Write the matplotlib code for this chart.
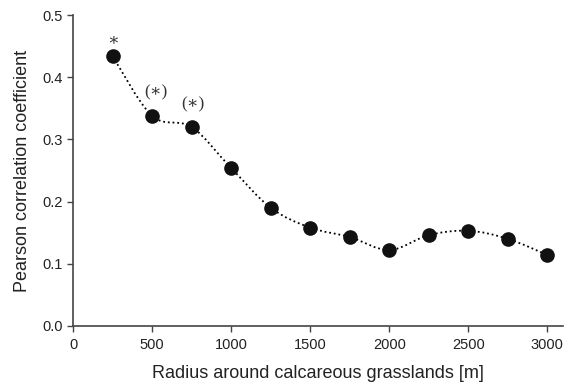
import numpy as np
import matplotlib
matplotlib.use("Agg")
import matplotlib.pyplot as plt
from matplotlib.path import Path
from matplotlib.patches import PathPatch

radius = [250, 500, 750, 1000, 1250, 1500, 1750, 2000, 2250, 2500, 2750, 3000]
pearson = [0.434, 0.338, 0.320, 0.254, 0.190, 0.158, 0.143, 0.122, 0.146, 0.153, 0.140, 0.114]
labels = {250: "\u2217", 500: "(\u2217)", 750: "(\u2217)"}

plt.rcParams['font.family'] = ['Liberation Sans', 'DejaVu Sans']
fig = plt.figure(figsize=(5.66, 3.87), dpi=100)
ax = fig.add_axes([0.129, 0.158, 0.866, 0.803])

# smooth curve through points (Catmull-Rom as cubic Bezier segments)
x = np.array(radius, float); y = np.array(pearson, float)
verts = [(x[0], y[0])]; codes = [Path.MOVETO]
n = len(x)
for i in range(n - 1):
    p0 = (x[i-1], y[i-1]) if i > 0 else (x[i], y[i])
    p1 = (x[i], y[i]); p2 = (x[i+1], y[i+1])
    p3 = (x[i+2], y[i+2]) if i + 2 < n else (x[i+1], y[i+1])
    c1 = (p1[0] + (p2[0]-p0[0])/6, p1[1] + (p2[1]-p0[1])/6)
    c2 = (p2[0] - (p3[0]-p1[0])/6, p2[1] - (p3[1]-p1[1])/6)
    verts += [c1, c2, p2]; codes += [Path.CURVE4]*3
ax.add_patch(PathPatch(Path(verts, codes), fill=False, lw=1.3, ls=(0, (1, 1.6)), color='black'))
ax.plot(radius, pearson, 'o', color='#111111', ms=9.5, zorder=3)

offsets = {250: (0, 11.5), 500: (3, 16.5), 750: (1, 16.5)}
for xv, t in labels.items():
    yv = pearson[radius.index(xv)]
    ax.annotate(t, (xv, yv), xytext=offsets[xv], textcoords='offset points', ha='center', va='center',
                family=['Liberation Serif', 'DejaVu Serif'], fontsize=12.5, color='#333333')

ax.set_xlim(0, 3100)
ax.set_ylim(0, 0.5)
ax.set_xticks([0, 500, 1000, 1500, 2000, 2500, 3000])
ax.set_yticks([0.0, 0.1, 0.2, 0.3, 0.4, 0.5])
ax.set_yticklabels(["0.0", "0.1", "0.2", "0.3", "0.4", "0.5"])
for s in ['top', 'right']:
    ax.spines[s].set_visible(False)
for s in ['left', 'bottom']:
    ax.spines[s].set_color('#444444'); ax.spines[s].set_linewidth(1.2)
ax.tick_params(direction='out', length=4, width=1, color='#444444', labelsize=10.5, labelcolor='#222222')
ax.tick_params(axis='x', pad=5)
ax.set_xlabel("Radius around calcareous grasslands [m]", fontsize=13, color='#222222', labelpad=9)
ax.set_ylabel("Pearson correlation coefficient", fontsize=13, color='#222222', labelpad=8)
fig.savefig("out.png", dpi=100)
